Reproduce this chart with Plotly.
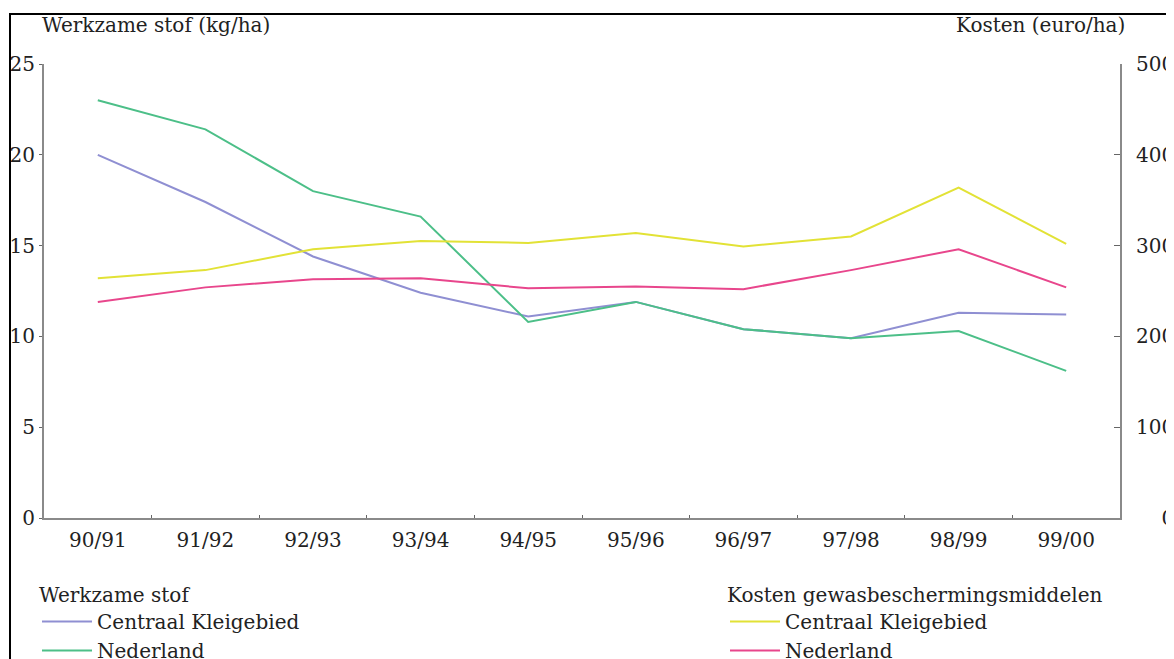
import plotly.graph_objects as go

seasons = ["90/91", "91/92", "92/93", "93/94", "94/95", "95/96", "96/97", "97/98", "98/99", "99/00"]

stof_ck = [20.0, 17.4, 14.4, 12.4, 11.1, 11.9, 10.4, 9.9, 11.3, 11.2]
stof_nl = [23.0, 21.4, 18.0, 16.6, 10.8, 11.9, 10.4, 9.9, 10.3, 8.1]
kosten_ck = [264, 273, 296, 305, 303, 314, 299, 310, 364, 302]
kosten_nl = [238, 254, 263, 264, 253, 255, 252, 273, 296, 254]

left_ticks = [0, 5, 10, 15, 20, 25]
right_ticks = [0, 100, 200, 300, 400, 500]
FS = "\u2007"
right_ticktext = [FS * 2 + "0", "100", "200", "300", "400", "500"]

FONT = "DejaVu Serif"
C_PURPLE = "#8f8fd2"
C_GREEN = "#4cbf88"
C_YELLOW = "#e2e236"
C_PINK = "#e8468c"

fig = go.Figure()
fig.add_trace(go.Scatter(x=seasons, y=stof_ck, mode="lines", name="Centraal Kleigebied",
                         line=dict(color=C_PURPLE, width=2), legend="legend"))
fig.add_trace(go.Scatter(x=seasons, y=stof_nl, mode="lines", name="Nederland",
                         line=dict(color=C_GREEN, width=2), legend="legend"))
fig.add_trace(go.Scatter(x=seasons, y=kosten_ck, mode="lines", name="Centraal Kleigebied",
                         line=dict(color=C_YELLOW, width=2), yaxis="y2", legend="legend2"))
fig.add_trace(go.Scatter(x=seasons, y=kosten_nl, mode="lines", name="Nederland",
                         line=dict(color=C_PINK, width=2), yaxis="y2", legend="legend2"))

# page body has an 8px margin; work in screen pixels and shift
OFF = 8
W, H = 1174, 659
PL, PR, PT, PB = 44, 1120, 64, 518  # plot area in screen pixels
L, T = PL - OFF, PT - OFF
R = W - (PR - OFF)
B = H - (PB - OFF)
pw, ph = PR - PL, PB - PT

def px(x):
    return (x - PL) / pw

def py(y):
    return (PB - y) / ph

tick_font = dict(family=FONT, size=20, color="#222")
legend_font = dict(family=FONT, size=20, color="#222")

fig.update_layout(
    width=W, height=H,
    margin=dict(l=L, r=R, t=T, b=B, autoexpand=False),
    paper_bgcolor="white", plot_bgcolor="white",
    font=dict(family=FONT, size=20, color="#222"),
    xaxis=dict(type="category", range=[-0.5, 9.5], showgrid=False, zeroline=False,
               showline=True, linecolor="#8a8a8a", linewidth=2,
               ticks="inside", tickson="boundaries", ticklen=3, tickcolor="#666",
               ticklabelstandoff=3, tickfont=tick_font),
    yaxis=dict(range=[0, 25], tickvals=left_ticks, showgrid=False, zeroline=False,
               showline=True, linecolor="#8a8a8a", linewidth=2,
               ticks="outside", ticklen=3, tickcolor="#666", tickfont=tick_font),
    yaxis2=dict(range=[0, 500], tickvals=right_ticks, ticktext=right_ticktext,
                overlaying="y", side="right",
                showgrid=False, zeroline=False, showline=True, linecolor="#8a8a8a",
                linewidth=2, ticks="inside", ticklen=6, tickcolor="#666",
                ticklabelstandoff=10, tickfont=tick_font),
    legend=dict(title=dict(text="Werkzame stof", font=legend_font), font=legend_font,
                x=px(37), y=py(576), xanchor="left", yanchor="top",
                bgcolor="rgba(0,0,0,0)", itemwidth=50, tracegroupgap=0),
    legend2=dict(title=dict(text="Kosten gewasbeschermingsmiddelen", font=legend_font),
                 font=legend_font, x=px(725), y=py(576), xanchor="left", yanchor="top",
                 bgcolor="rgba(0,0,0,0)", itemwidth=50, tracegroupgap=0),
    showlegend=True,
)

fig.add_annotation(text="Werkzame stof (kg/ha)", xref="paper", yref="paper",
                   x=px(40), y=py(25), xanchor="left", yanchor="middle",
                   showarrow=False, font=dict(family=FONT, size=20, color="#222"))
fig.add_annotation(text="Kosten (euro/ha)", xref="paper", yref="paper",
                   x=px(1127), y=py(25), xanchor="right", yanchor="middle",
                   showarrow=False, font=dict(family=FONT, size=20, color="#222"))

fig.add_shape(type="rect", xref="paper", yref="paper",
              x0=px(10), x1=px(1169), y0=py(720), y1=py(14),
              line=dict(color="black", width=2), fillcolor="rgba(0,0,0,0)")

fig.write_html("out.html")
